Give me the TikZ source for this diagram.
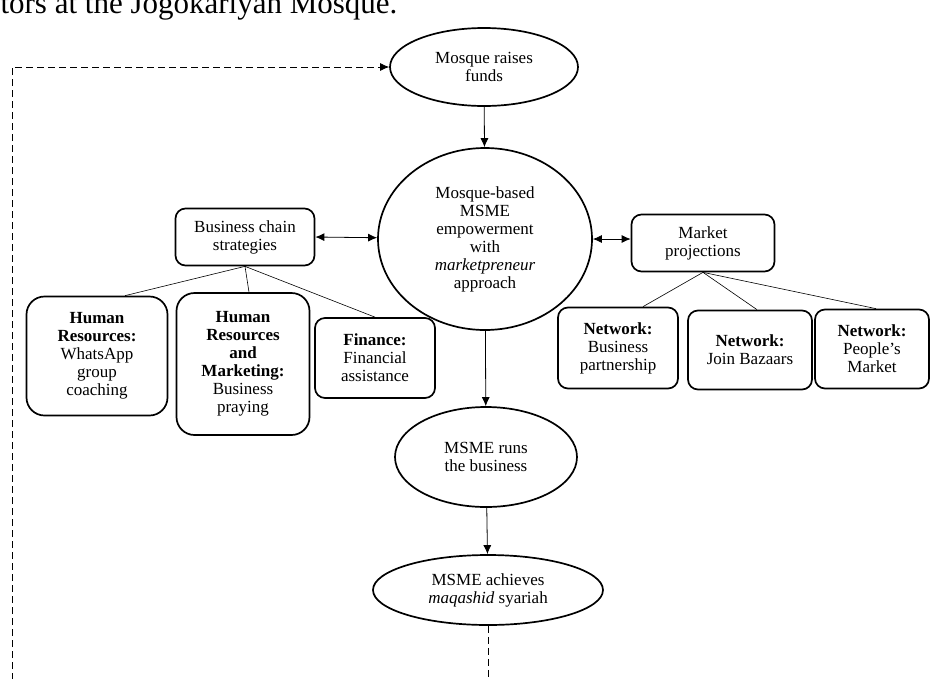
\documentclass[tikz,border=0pt]{standalone}
\usepackage{fontspec}
\setmainfont{Liberation Serif}
\usetikzlibrary{shapes.geometric,arrows.meta}
\begin{document}
\begin{tikzpicture}[x=1pt,y=-1pt,line join=round,>={Latex[length=9pt,width=8pt]},
	font=\fontsize{17}{18}\selectfont]
	\tikzset{oval/.style={draw,ellipse,line width=1.7pt,inner sep=0pt,align=center},
		rbox/.style={draw,rounded corners=10pt,line width=1.7pt,inner sep=0pt,align=center},
		link/.style={line width=0.6pt},
		flow/.style={->,line width=0.8pt},
		feedback/.style={line width=0.8pt,dash pattern=on 7pt off 4pt}}
	\useasboundingbox (0,0) rectangle (931,678);
	\node[anchor=base west,font=\fontsize{31}{31}\selectfont] (caption) at (-3,13) {tors at the Jogokariyan Mosque.};
	% main flow
	\node[oval,minimum width=188,minimum height=78] (funds) at (484,67) {Mosque raises\\funds};
	\node[oval,minimum width=214,minimum height=182] (hub) at (485,239) {Mosque-based\\MSME\\empowerment\\with\\\textit{marketpreneur}\\approach};
	\node[oval,minimum width=182,minimum height=100] (runs) at (486,457) {MSME runs\\the business};
	\node[oval,minimum width=230,minimum height=70] (goal) at (488,590) {MSME achieves\\\textit{maqashid} syariah};
	% left branch
	\node[rbox,minimum width=139,minimum height=57] (chain) at (245,237) {Business chain\\strategies};
	\node[rbox,rounded corners=18pt,minimum width=141,minimum height=119] (hr) at (97,356) {\textbf{Human}\\\textbf{Resources:}\\WhatsApp\\group\\coaching};
	\node[rbox,rounded corners=18pt,minimum width=133,minimum height=142] (hrm) at (243,364) {\textbf{Human}\\\textbf{Resources}\\\textbf{and}\\\textbf{Marketing:}\\Business\\praying};
	\node[rbox,minimum width=120,minimum height=80] (fin) at (375,358) {\textbf{Finance:}\\Financial\\assistance};
	% right branch
	\node[rbox,minimum width=143,minimum height=57] (market) at (703,243) {Market\\projections};
	\node[rbox,minimum width=120,minimum height=81] (bp) at (618,348) {\textbf{Network:}\\Business\\partnership};
	\node[rbox,minimum width=124,minimum height=79] (jb) at (750,350) {\textbf{Network:}\\Join Bazaars};
	\node[rbox,minimum width=114,minimum height=79] (pm) at (872,349) {\textbf{Network:}\\People's\\Market};
	\coordinate (loopend) at (12,680);
	\draw[flow] (funds) -- (hub);
	\draw[flow] (hub) -- (runs);
	\draw[flow] (runs) -- (goal);
	\draw[flow,<->] (chain.east) -- (hub);
	\draw[flow,<->] (hub.east) -- (hub.east -| market.west);
	\draw[link] (chain.south) -- ([xshift=28]hr.north);
	\draw[link] (chain.south) -- ([xshift=6]hrm.north);
	\draw[link] (chain.south) -- (fin.north);
	\draw[link] (market.south) -- ([xshift=25]bp.north);
	\draw[link] (market.south) -- ([xshift=7]jb.north);
	\draw[link] (market.south) -- ([xshift=4]pm.north);
	% feedback loop
	\draw[feedback] (goal.south) -- (goal.south |- loopend);
	\draw[feedback,->] (loopend) |- (funds);
\end{tikzpicture}
\end{document}
